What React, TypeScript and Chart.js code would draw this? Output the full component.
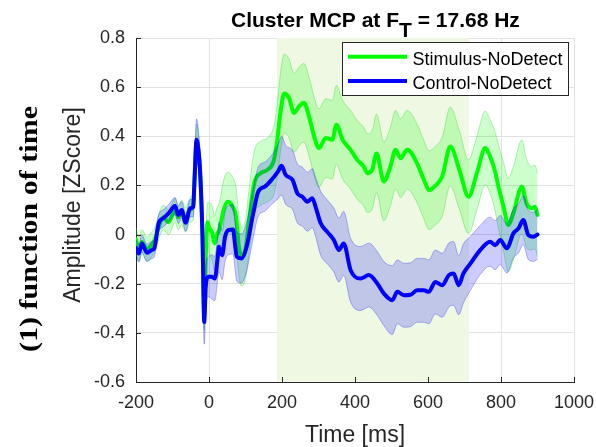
import React, { useEffect, useRef } from "react";
import { Chart, registerables } from "chart.js";

Chart.register(...registerables);

// ---------------- data ----------------
const blueTimes = [-200, -192, -184, -170, -157, -150, -138, -125, -111, -93, -84, -75, -64, -52, -43, -40, -34, -29, -25, -18, -13, -9, -2, 7, 16, 24, 27, 36, 44, 53, 66, 71, 76, 89, 103, 121, 135, 153, 171, 189, 199, 210, 229, 242, 256, 270, 283, 292, 306, 324, 342, 356, 369, 388, 415, 438, 461, 479, 502, 516, 534, 552, 570, 589, 602, 620, 639, 657, 670, 684, 697, 716, 743, 770, 784, 798, 816, 834, 848, 861, 875, 889, 900];
const blueValues = [-0.055, -0.077, -0.036, -0.074, -0.063, -0.056, 0.046, 0.066, 0.086, 0.116, 0.08, 0.1, 0.048, 0.107, 0.113, 0.209, 0.386, 0.345, 0.277, 0.005, -0.356, -0.213, -0.172, -0.172, -0.179, -0.09, -0.05, -0.084, -0.009, 0.018, 0.021, -0.036, -0.09, -0.097, -0.05, 0.086, 0.175, 0.195, 0.222, 0.256, 0.28, 0.243, 0.222, 0.168, 0.154, 0.134, 0.148, 0.113, 0.046, 0.011, -0.022, -0.063, -0.036, -0.145, -0.179, -0.165, -0.199, -0.24, -0.267, -0.233, -0.247, -0.245, -0.227, -0.227, -0.233, -0.193, -0.206, -0.165, -0.158, -0.206, -0.158, -0.118, -0.063, -0.029, -0.043, -0.022, -0.056, 0.005, 0.025, 0.059, -0.002, -0.009, 0.0];
const blueSem = [0.035, 0.035, 0.035, 0.035, 0.035, 0.035, 0.035, 0.035, 0.035, 0.035, 0.035, 0.035, 0.035, 0.035, 0.04, 0.06, 0.085, 0.08, 0.07, 0.07, 0.09, 0.09, 0.08, 0.09, 0.09, 0.09, 0.1, 0.1, 0.1, 0.1, 0.1, 0.1, 0.1, 0.1, 0.1, 0.1, 0.1, 0.1, 0.1, 0.11, 0.12, 0.12, 0.12, 0.12, 0.12, 0.12, 0.12, 0.12, 0.13, 0.13, 0.13, 0.13, 0.13, 0.13, 0.13, 0.13, 0.13, 0.13, 0.14, 0.13, 0.13, 0.13, 0.13, 0.13, 0.13, 0.13, 0.13, 0.13, 0.13, 0.12, 0.12, 0.11, 0.1, 0.1, 0.1, 0.1, 0.1, 0.1, 0.1, 0.1, 0.1, 0.1, 0.1];

const greenTimes = [-200, -192, -184, -170, -157, -148, -138, -125, -111, -100, -93, -84, -75, -64, -52, -43, -40, -34, -29, -25, -18, -13, -9, -4, 0, 9, 15, 22, 28, 40, 51, 65, 74, 82, 90, 100, 110, 124, 142, 160, 178, 187, 196, 206, 219, 233, 247, 260, 274, 288, 301, 320, 338, 349, 366, 388, 406, 424, 434, 447, 459, 479, 497, 511, 525, 543, 570, 589, 603, 617, 639, 661, 686, 711, 734, 757, 770, 784, 793, 807, 820, 834, 857, 870, 884, 893, 900];
const greenValues = [-0.02, -0.06, -0.03, -0.06, -0.04, -0.02, 0.03, 0.07, 0.05, 0.08, 0.1, 0.07, 0.09, 0.06, 0.1, 0.12, 0.22, 0.38, 0.34, 0.27, 0.0, -0.33, -0.1, 0.05, 0.03, 0.005, -0.036, 0.0, 0.018, 0.1, 0.134, 0.113, 0.073, -0.05, -0.09, -0.06, 0.06, 0.209, 0.25, 0.263, 0.304, 0.385, 0.5, 0.574, 0.556, 0.495, 0.522, 0.536, 0.481, 0.4, 0.352, 0.393, 0.386, 0.447, 0.386, 0.345, 0.304, 0.277, 0.25, 0.263, 0.33, 0.216, 0.277, 0.345, 0.311, 0.345, 0.29, 0.222, 0.18, 0.195, 0.236, 0.358, 0.263, 0.154, 0.25, 0.352, 0.318, 0.256, 0.195, 0.113, 0.039, 0.087, 0.195, 0.127, 0.107, 0.113, 0.08];
const greenSem = [0.05, 0.05, 0.05, 0.05, 0.05, 0.05, 0.05, 0.05, 0.05, 0.05, 0.05, 0.05, 0.05, 0.05, 0.05, 0.06, 0.06, 0.07, 0.07, 0.06, 0.06, 0.06, 0.06, 0.08, 0.1, 0.11, 0.11, 0.11, 0.11, 0.12, 0.12, 0.12, 0.12, 0.12, 0.12, 0.12, 0.13, 0.13, 0.13, 0.13, 0.14, 0.15, 0.16, 0.16, 0.16, 0.16, 0.16, 0.16, 0.16, 0.16, 0.16, 0.16, 0.16, 0.16, 0.16, 0.16, 0.16, 0.16, 0.16, 0.16, 0.16, 0.16, 0.16, 0.16, 0.16, 0.16, 0.16, 0.16, 0.16, 0.16, 0.16, 0.16, 0.16, 0.15, 0.15, 0.15, 0.15, 0.16, 0.17, 0.18, 0.19, 0.19, 0.19, 0.18, 0.17, 0.17, 0.17];

const xTicks = [-200, 0, 200, 400, 600, 800, 1000];
const yTicks = [-0.6, -0.4, -0.2, 0, 0.2, 0.4, 0.6, 0.8];
const clusterWindow = [186, 712];
const seriesLabels = ["Stimulus-NoDetect", "Control-NoDetect"];
const seriesColors = ["#00ff00", "#0000ff"];
const titleParts = ["Cluster MCP at F", "T", " = 17.68 Hz"];
const xTitle = "Time [ms]";
const yTitle = "Amplitude [ZScore]";
const sideLabel = "(1) function of time";

const SANS = '"Liberation Sans", Arial, Helvetica, sans-serif';
const SERIF = '"Liberation Serif", "Times New Roman", serif';
const AXIS_COLOR = "#262626";

const pts = (ts: number[], vs: number[], sem: number[] | null, sign: number) =>
  ts.map((t, i) => ({ x: t, y: vs[i] + (sem ? sign * sem[i] : 0) }));

const shadePlugin = {
  id: "clusterShade",
  beforeDatasetsDraw(chart: any) {
    const { ctx, chartArea, scales } = chart;
    const x0 = scales.x.getPixelForValue(clusterWindow[0]);
    const x1 = scales.x.getPixelForValue(clusterWindow[1]);
    ctx.save();
    ctx.fillStyle = "#eff8e2";
    ctx.fillRect(x0, chartArea.top, x1 - x0, chartArea.bottom - chartArea.top - 0.5);
    ctx.restore();
  },
};

const decorPlugin = {
  id: "decor",
  afterDraw(chart: any) {
    const { ctx, chartArea, scales } = chart;
    const { left, right, top, bottom } = chartArea;
    ctx.save();
    // inward tick marks
    ctx.strokeStyle = AXIS_COLOR;
    ctx.lineWidth = 1;
    ctx.beginPath();
    xTicks.forEach((v) => {
      const x = Math.round(scales.x.getPixelForValue(v)) + 0.5;
      ctx.moveTo(x, bottom);
      ctx.lineTo(x, bottom - 5);
    });
    yTicks.forEach((v) => {
      const y = Math.round(scales.y.getPixelForValue(v)) + 0.5;
      ctx.moveTo(left, y);
      ctx.lineTo(left + 5, y);
    });
    ctx.stroke();

    // legend
    const lx = 342.5, ly = 42.5, lw = 226, lh = 53;
    ctx.fillStyle = "#ffffff";
    ctx.fillRect(lx, ly, lw, lh);
    ctx.strokeStyle = "#262626";
    ctx.lineWidth = 1;
    ctx.strokeRect(lx, ly, lw, lh);
    const rows = [56.7, 81];
    const bases = [65, 89];
    seriesLabels.forEach((lab, i) => {
      ctx.strokeStyle = seriesColors[i];
      ctx.lineWidth = 4;
      ctx.beginPath();
      ctx.moveTo(348, rows[i]);
      ctx.lineTo(407, rows[i]);
      ctx.stroke();
      ctx.fillStyle = "#000000";
      ctx.font = `18px ${SANS}`;
      ctx.textAlign = "left";
      ctx.textBaseline = "alphabetic";
      ctx.fillText(lab, 412.5, bases[i]);
    });

    // title with subscript
    ctx.fillStyle = "#000000";
    ctx.font = `bold 21px ${SANS}`;
    ctx.textAlign = "left";
    ctx.textBaseline = "alphabetic";
    let tx = 231;
    ctx.fillText(titleParts[0], tx, 27);
    tx += ctx.measureText(titleParts[0]).width;
    ctx.fillText(titleParts[1], tx, 36.5);
    tx += ctx.measureText(titleParts[1]).width;
    ctx.fillText(titleParts[2], tx, 27);

    // x axis title
    ctx.fillStyle = AXIS_COLOR;
    ctx.font = `23px ${SANS}`;
    ctx.textAlign = "center";
    ctx.fillText(xTitle, (left + right) / 2, 441.5);

    // y axis title
    ctx.save();
    ctx.translate(80, (top + bottom) / 2 - 5);
    ctx.rotate(-Math.PI / 2);
    ctx.fillText(yTitle, 0, 0);
    ctx.restore();

    // side label
    ctx.save();
    ctx.fillStyle = "#000000";
    ctx.font = `bold 25px ${SERIF}`;
    const w = ctx.measureText(sideLabel).width;
    const target = 246;
    ctx.translate(37, 229);
    ctx.rotate(-Math.PI / 2);
    ctx.scale(target / w, 1);
    ctx.textAlign = "center";
    ctx.fillText(sideLabel, 0, 0);
    ctx.restore();

    ctx.restore();
  },
};

export default function App() {
  const ref = useRef<HTMLCanvasElement | null>(null);

  useEffect(() => {
    if (!ref.current) return;
    const common = {
      pointRadius: 0,
      pointHoverRadius: 0,
      cubicInterpolationMode: "monotone" as const,
      tension: 0.3,
    };
    const bandG = "rgba(0,200,0,0.28)";
    const bandB = "rgba(0,0,255,0.28)";
    const chart = new Chart(ref.current, {
      type: "line",
      data: {
        datasets: [
          { ...common, label: "gU", data: pts(greenTimes, greenValues, greenSem, 1), borderColor: bandG, borderWidth: 1, fill: false, order: 5 },
          { ...common, label: "gL", data: pts(greenTimes, greenValues, greenSem, -1), borderColor: bandG, borderWidth: 1, backgroundColor: "rgba(0,255,0,0.2)", fill: "-1", order: 4 },
          { ...common, label: seriesLabels[0], data: pts(greenTimes, greenValues, null, 0), borderColor: seriesColors[0], borderWidth: 4, fill: false, order: 3, borderJoinStyle: "round", borderCapStyle: "round" },
          { ...common, label: "bU", data: pts(blueTimes, blueValues, blueSem, 1), borderColor: bandB, borderWidth: 1, fill: false, order: 2 },
          { ...common, label: "bL", data: pts(blueTimes, blueValues, blueSem, -1), borderColor: bandB, borderWidth: 1, backgroundColor: "rgba(0,0,255,0.2)", fill: "-1", order: 1 },
          { ...common, label: seriesLabels[1], data: pts(blueTimes, blueValues, null, 0), borderColor: seriesColors[1], borderWidth: 4, fill: false, order: 0, borderJoinStyle: "round", borderCapStyle: "round" },
        ],
      },
      options: {
        responsive: false,
        animation: false,
        devicePixelRatio: 1,
        events: [],
        layout: { padding: { left: 0, right: 22, top: 38, bottom: 0 } },
        plugins: {
          legend: { display: false },
          tooltip: { enabled: false },
          title: { display: false },
        },
        scales: {
          x: {
            type: "linear",
            min: -200,
            max: 1000,
            afterBuildTicks: (s: any) => { s.ticks = xTicks.map((v) => ({ value: v })); },
            afterFit: (s: any) => { s.height = 65; s.paddingLeft = 0; s.paddingRight = 0; },
            ticks: {
              color: AXIS_COLOR,
              font: { size: 18, family: SANS },
              padding: 10,
              maxRotation: 0,
              autoSkip: false,
              callback: (v: any) => String(v),
            },
            grid: { color: "#e2e2e2", drawTicks: false, lineWidth: 1 },
            border: { display: true, color: AXIS_COLOR, width: 1 },
          },
          y: {
            type: "linear",
            min: -0.6,
            max: 0.8,
            afterBuildTicks: (s: any) => { s.ticks = yTicks.map((v) => ({ value: v })); },
            afterFit: (s: any) => { s.width = 136; s.paddingTop = 0; s.paddingBottom = 0; },
            ticks: {
              color: AXIS_COLOR,
              font: { size: 18, family: SANS },
              padding: 11,
              autoSkip: false,
              callback: (v: any) => String(Math.round(Number(v) * 10) / 10),
            },
            grid: { color: "#e2e2e2", drawTicks: false, lineWidth: 1 },
            border: { display: true, color: AXIS_COLOR, width: 1 },
          },
        },
      } as any,
      plugins: [shadePlugin, decorPlugin],
    });
    return () => chart.destroy();
  }, []);

  return (
    <div style={{ position: "fixed", left: 0, top: 0, width: 596, height: 447, background: "#ffffff" }}>
      <canvas ref={ref} width={596} height={447} style={{ display: "block" }} />
    </div>
  );
}
